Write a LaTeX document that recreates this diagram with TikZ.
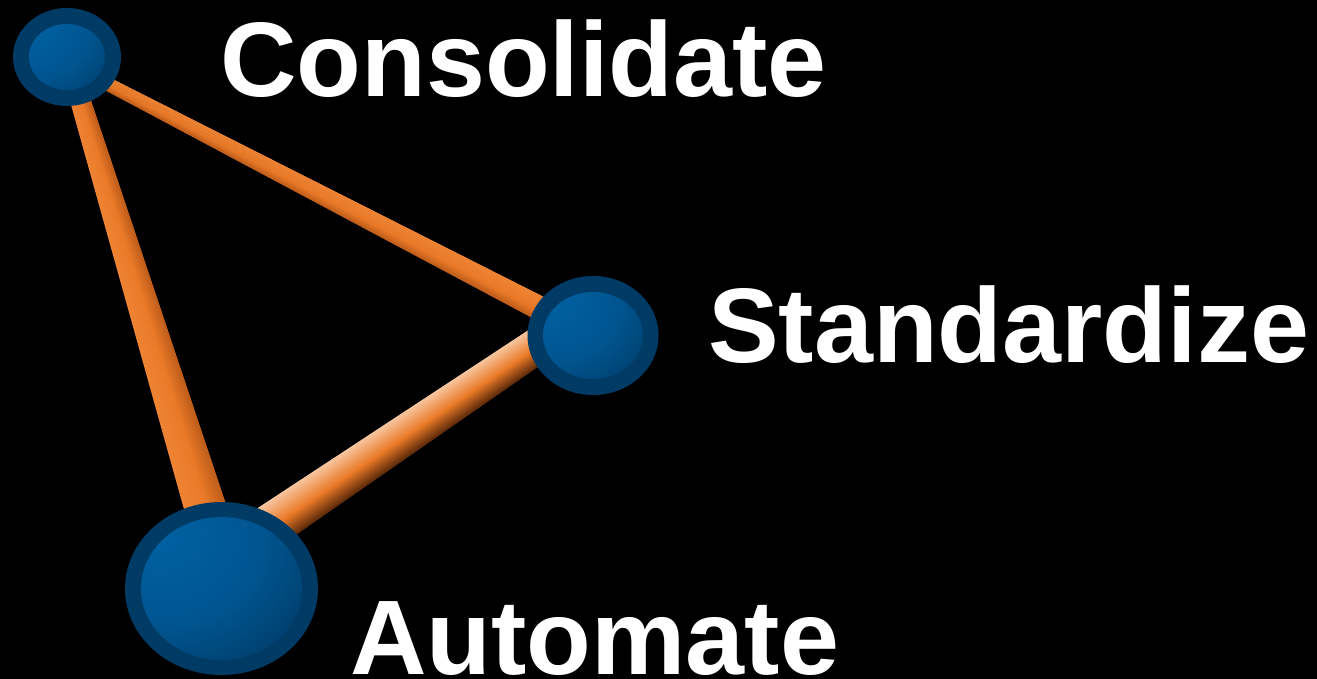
\documentclass[tikz,border=0pt]{standalone}
\usepackage{fontspec}
\setmainfont{Liberation Sans}
\usetikzlibrary{shapes.geometric,calc}
\definecolor{ring}{RGB}{0,59,102}
\definecolor{sphhl}{RGB}{0,98,164}
\definecolor{sphmid}{RGB}{0,68,118}
\definecolor{sphdk}{RGB}{0,30,54}
\definecolor{rodor}{RGB}{234,122,40}
\definecolor{rodorlt}{RGB}{238,132,52}
\definecolor{rodordk}{RGB}{190,92,26}
\definecolor{rodpeach}{RGB}{248,200,162}
\definecolor{rodbrown}{RGB}{92,42,10}
\pgfdeclareradialshading{sph}{\pgfpoint{-18bp}{18bp}}{color(0bp)=(sphhl); color(25bp)=(sphhl!55!sphmid); color(48bp)=(sphmid!55!sphdk); color(66bp)=(sphdk); color(120bp)=(sphdk)}
% #1 from, #2 to, #3 half width at from, #4 half width at to,
% #5 colour on side -1, #6 middle colour, #7 colour on side +1, #8 position of middle stop (0..1)
\newcommand\drawrod[8]{%
  \foreach \i in {0,...,29}{%
    \pgfmathsetmacro\rfa{-1+\i/15}%
    \pgfmathsetmacro\rfb{min(1,-1+(\i+1.7)/15)}%
    \pgfmathsetmacro\rt{(\i+0.5)/30}%
    \ifdim\rt pt<#8pt
      \pgfmathtruncatemacro\rp{100*\rt/#8}%
      \colorlet{rodc}{#6!\rp!#5}%
    \else
      \pgfmathtruncatemacro\rp{100*(\rt-#8)/(1-#8)}%
      \colorlet{rodc}{#7!\rp!#6}%
    \fi
    \pgfmathsetmacro\rda{\rfa*#3}\pgfmathsetmacro\rdb{\rfb*#3}%
    \pgfmathsetmacro\rdc{\rfa*#4}\pgfmathsetmacro\rdd{\rfb*#4}%
    \fill[rodc] ($(#1)!{\rda pt}!90:(#2)$) -- ($(#1)!{\rdb pt}!90:(#2)$)
      -- ($(#2)!{\rdd pt}!-90:(#1)$) -- ($(#2)!{\rdc pt}!-90:(#1)$) -- cycle;
  }}
\tikzset{
  sphere/.style n args={4}{ellipse, draw=none, fill=ring, inner sep=0pt, outer sep=0pt,
    minimum width=#1, minimum height=#2,
    path picture={\shade[shading=sph] (path picture bounding box.center) ellipse [x radius=#3, y radius=#4];}},
  lbl/.style={text=white, font=\bfseries\fontsize{106}{110}\selectfont, inner sep=0pt, anchor=base west}
}
\begin{document}
\begin{tikzpicture}[x=1pt,y=-1pt]
\fill[black] (0,0) rectangle (1317,679);
\useasboundingbox (0,0) rectangle (1317,679);
% sphere positions (drawn later, on top)
\path (67,57) coordinate (consC) (593,335.5) coordinate (standC) (221.5,588.5) coordinate (autoC);
% rod end points
\coordinate (r1a) at ($(consC)+(0,6)$);
\coordinate (r1b) at ($(standC)+(0,0.5)$);
\coordinate (r2a) at (consC);
\coordinate (r2b) at ($(autoC)+(8.5,0)$);
\coordinate (r3a) at ($(autoC)+(0,-29.5)$);
\coordinate (r3b) at ($(standC)+(0,-27.5)$);
% rods
\drawrod{r1a}{r1b}{6.2}{12.7}{rodordk}{rodor}{rodorlt}{0.4}
\drawrod{r2a}{r2b}{9}{23}{rodorlt}{rodor}{rodordk}{0.55}
\drawrod{r3a}{r3b}{22.7}{17}{rodbrown}{rodor}{rodpeach}{0.45}
% spheres
\node[sphere={108pt}{98pt}{38pt}{33pt}] (cons) at (consC) {};
\node[sphere={131pt}{119pt}{50pt}{43.5pt}] (stand) at (standC) {};
\node[sphere={193pt}{173pt}{80.5pt}{71.5pt}] (auto) at (autoC) {};
% labels
\node[lbl] (tcons) at (220,97) {Consolidate};
\node[lbl] (tstand) at (708,362) {Standardize};
\node[lbl] (tauto) at (350,674) {Automate};
\end{tikzpicture}
\end{document}
